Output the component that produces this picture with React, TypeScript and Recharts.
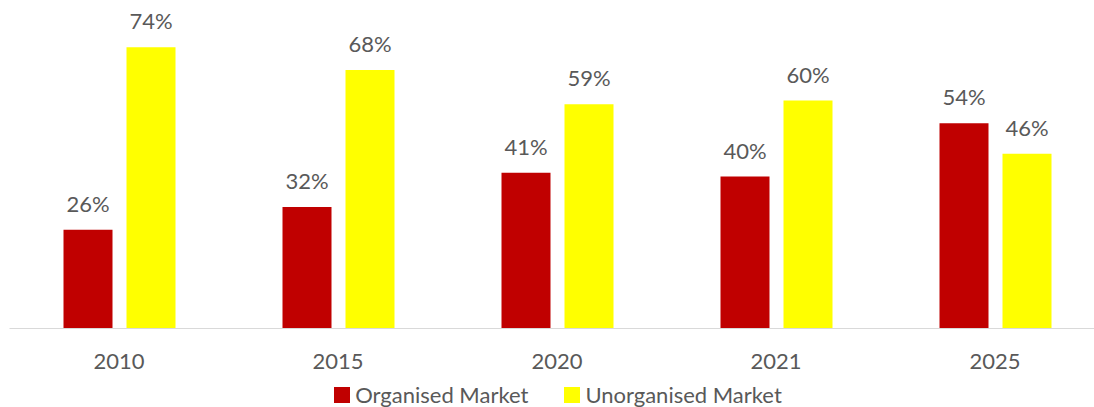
import { BarChart, Bar, XAxis, YAxis, LabelList } from 'recharts'

const years = ['2010', '2015', '2020', '2021', '2025']
const organised = [26, 32, 41, 40, 54]
const unorganised = [74, 68, 59, 60, 46]

const seriesNames = ['Organised Market', 'Unorganised Market']
const seriesColors = ['#C00000', '#FFFF00']

const data = years.map((year, i) => ({ year, organised: organised[i], unorganised: unorganised[i] }))

const font = 'Lato, "Open Sans", sans-serif'
const textColor = '#595959'

export default function App() {
  return (
    <div style={{ position: 'absolute', left: 0, top: 0, width: 1094, height: 407, overflow: 'hidden', background: '#fff' }}>
      <BarChart
        width={1105}
        height={407}
        data={data}
        margin={{ top: 24.5, right: 0.5, bottom: 48.5, left: 9.5 }}
        barSize={49}
        barGap={14}
      >
        <XAxis
          dataKey="year"
          height={30}
          axisLine={{ stroke: '#D9D9D9', strokeWidth: 1 }}
          tickLine={false}
          tickMargin={19}
          tick={{ fill: textColor, fontSize: 22, fontFamily: font }}
          interval={0}
        />
        <YAxis hide domain={[0, 80]} />
        <Bar dataKey="organised" fill={seriesColors[0]} isAnimationActive={false}>
          <LabelList
            dataKey="organised"
            position="top"
            offset={18}
            formatter={(v: any) => `${v}%`}
            style={{ fill: textColor, fontSize: 22, fontFamily: font }}
          />
        </Bar>
        <Bar dataKey="unorganised" fill={seriesColors[1]} isAnimationActive={false}>
          <LabelList
            dataKey="unorganised"
            position="top"
            offset={18}
            formatter={(v: any) => `${v}%`}
            style={{ fill: textColor, fontSize: 22, fontFamily: font }}
          />
        </Bar>
      </BarChart>
      <div
        style={{
          position: 'absolute',
          top: 382,
          left: 0,
          width: 1116,
          display: 'flex',
          justifyContent: 'center',
          alignItems: 'center',
          fontFamily: font,
          fontSize: 22,
          color: textColor,
          lineHeight: '26.4px',
        }}
      >
        {seriesNames.map((name, i) => (
          <div key={name} style={{ display: 'flex', alignItems: 'center', marginRight: i === 0 ? 36 : 0 }}>
            <span style={{ display: 'inline-block', width: 16, height: 16, background: seriesColors[i], marginRight: 5 }} />
            <span>{name}</span>
          </div>
        ))}
      </div>
    </div>
  )
}
